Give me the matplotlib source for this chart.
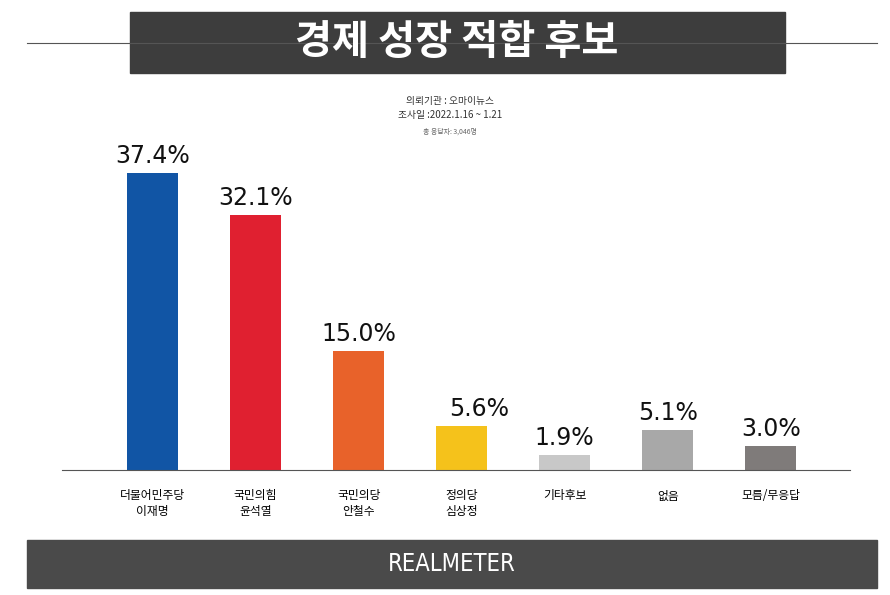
import matplotlib
matplotlib.use("Agg")
import matplotlib.pyplot as plt
from matplotlib.patches import Rectangle
from matplotlib.lines import Line2D

plt.rcParams['font.family'] = ['Noto Sans CJK KR', 'DejaVu Sans']

categories = ["더불어민주당\n이재명", "국민의힘\n윤석열", "국민의당\n안철수", "정의당\n심상정", "기타후보", "없음", "모름/무응답"]
values = [37.4, 32.1, 15.0, 5.6, 1.9, 5.1, 3.0]
colors = ["#1155a5", "#e02030", "#e8622a", "#f5c21b", "#c8c8c8", "#a8a8a8", "#7f7b7a"]

W, H = 890, 595
fig = plt.figure(figsize=(W/100, H/100), dpi=100)
fig.patch.set_facecolor("white")

def fx(px): return px / W
def fy(py): return 1 - py / H

# title band
fig.add_artist(Line2D([fx(27), fx(877)], [fy(43), fy(43)], color="#555555", lw=0.8))
fig.add_artist(Rectangle((fx(130), fy(73)), fx(655), 61/H, color="#3d3d3d"))
fig.text(fx(457), fy(43), "경제 성장 적합 후보", color="white", fontsize=29, fontweight="bold",
         ha="center", va="center")
fig.text(fx(450), fy(101), "의뢰기관 : 오마이뉴스", fontsize=7, ha="center", va="center", color="#333333")
fig.text(fx(450), fy(115), "조사일 :2022.1.16 ~ 1.21", fontsize=7, ha="center", va="center", color="#333333")
fig.text(fx(450), fy(132), "총 응답자: 3,046명", fontsize=5, ha="center", va="center", color="#666666")

# bottom band
fig.add_artist(Rectangle((fx(27), fy(588)), fx(850), 48/H, color="#4a4a4a"))
fig.text(fx(452), fy(564), "REALMETER", color="white", fontsize=17, ha="center", va="center",
         family="DejaVu Sans", fontstretch="condensed")

ax = fig.add_axes([fx(62), fy(470), fx(788), 370/H])
x = list(range(len(values)))
ax.bar(x, values, width=0.49, color=colors)
ax.set_xlim(-0.88, 6.77)
ax.set_ylim(0, 46.6)
offsets = [0, 0, 0, 0.17, 0, 0, 0]
for xi, v, o in zip(x, values, offsets):
    ax.text(xi + o, v + 0.6, f"{v}%", ha="center", va="bottom", fontsize=17, color="#111111",
            family="DejaVu Sans", fontweight="medium")
for s in ["top", "right", "left"]:
    ax.spines[s].set_visible(False)
ax.spines["bottom"].set_color("#555555")
ax.set_yticks([])
ax.set_xticks(x)
ax.set_xticklabels(categories, fontsize=8.5, linespacing=1.3, fontweight="medium")
ax.tick_params(axis="x", length=0, pad=14)
ax.patch.set_alpha(0)

fig.savefig("out.png", dpi=100)
